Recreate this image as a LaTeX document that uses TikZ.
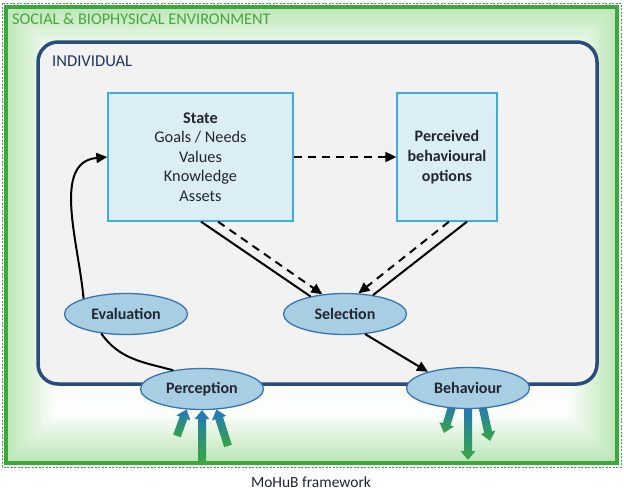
\documentclass[tikz,border=0pt]{standalone}
\usepackage{fontspec}
\setmainfont{Carlito}
\usetikzlibrary{arrows.meta,shapes.geometric,calc}
\definecolor{envgreen}{RGB}{62,166,62}
\definecolor{envtext}{RGB}{72,165,62}
\definecolor{envglow}{RGB}{188,230,182}
\definecolor{indblue}{RGB}{42,76,124}
\definecolor{indtext}{RGB}{32,52,92}
\definecolor{indfill}{RGB}{242,242,242}
\definecolor{boxfill}{RGB}{219,238,246}
\definecolor{boxline}{RGB}{62,172,222}
\definecolor{ellfill}{RGB}{168,206,228}
\definecolor{ellline}{RGB}{56,116,176}
\definecolor{textdark}{RGB}{34,38,48}
\definecolor{arrblue}{RGB}{36,118,186}
\definecolor{arrgreen}{RGB}{56,166,66}
\pgfdeclarelayer{back}
\pgfdeclarelayer{mid}
\pgfsetlayers{back,mid,main}
\newcommand\gradarrow[2]{%
  \coordinate (ga1) at #1;
  \coordinate (ga2) at #2;
  \coordinate (gan) at ($(ga2)!9pt!(ga1)$);
  \shade[top color=arrblue, bottom color=arrgreen]
    ($(ga1)!4pt!90:(ga2)$) -- ($(gan)!4pt!90:(ga2)$) -- ($(gan)!7.5pt!90:(ga2)$)
    -- (ga2) -- ($(gan)!7.5pt!-90:(ga2)$) -- ($(gan)!4pt!-90:(ga2)$)
    -- ($(ga1)!4pt!-90:(ga2)$) -- cycle;
}
\tikzset{
  statebox/.style={draw=boxline, line width=1.3pt, fill=boxfill, inner sep=0pt,
    align=center, text=textdark, font=\fontsize{16.3}{19.6}\selectfont},
  oval/.style={ellipse, draw=ellline, line width=1.3pt, fill=ellfill, inner sep=0pt,
    minimum width=123pt, minimum height=41pt, text=textdark,
    font=\bfseries\fontsize{16}{18}\selectfont},
  conn/.style={line width=2pt, black},
  tipped/.style={-{Triangle[length=11pt,width=10pt]}},
  dashconn/.style={conn, dash pattern=on 8pt off 6pt}
}
\begin{document}
\begin{tikzpicture}[x=1pt,y=-1pt]
\useasboundingbox (0,0) rectangle (624,491);
\begin{pgfonlayer}{back}
  \fill[white] (0,0) rectangle (624,491);
  \foreach \i in {0,...,24}{
    \pgfmathtruncatemacro\pc{100-4*\i}
    \fill[envglow!\pc!white] (6+2*\i,7+2*\i) rectangle (617-2*\i,463-2*\i);
  }
  \draw[envgreen, line width=3.5pt] (6,7) rectangle (617,463);
  \draw[envgreen, line width=0.7pt, dash pattern=on 2pt off 1.5pt] (2,3) rectangle (621,467);
  \draw[indblue, line width=3.5pt, fill=indfill, rounded corners=20pt] (38,42) rectangle (597,384);
\end{pgfonlayer}

\node[anchor=west, text=envtext, font=\fontsize{16.3}{18}\selectfont, inner sep=0pt] (envlabel) at (12,19) {SOCIAL \& BIOPHYSICAL ENVIRONMENT};
\node[anchor=west, text=indtext, font=\fontsize{16.6}{18}\selectfont, inner sep=0pt] (indlabel) at (52,61) {INDIVIDUAL};

\node[statebox, minimum width=185pt, minimum height=128pt] (state) at (200.5,157)
  {\textbf{State}\\Goals / Needs\\Values\\Knowledge\\Assets};
\node[statebox, minimum width=100pt, minimum height=128pt, font=\bfseries\fontsize{16}{20}\selectfont] (options) at (447,157)
  {Perceived\\behavioural\\options};

\node[oval] (eval) at (126,314) {Evaluation};
\node[oval] (select) at (345,314) {Selection};
\node[oval] (percept) at (202,389) {Perception};
\node[oval] (behav) at (468,388) {Behaviour};

\node[text=textdark, font=\fontsize{15.5}{17}\selectfont, inner sep=0pt] (caption) at (311,482) {MoHuB framework};

% connectors
\draw[dashconn, tipped] (state.east) -- (options.west);
\draw[conn] ([xshift=0.5pt]state.south) -- (select.153);
\draw[dashconn, tipped] ([xshift=17.5pt]state.south) -- (select.139);
\draw[dashconn, tipped] ([xshift=2pt]options.south) -- (select.57);
\draw[conn] ([xshift=20pt]options.south) -- (select.34);
\draw[conn, tipped] (select.-45) -- (behav.158);
\draw[conn] (percept.147) to[out=165, in=-55] (eval.218);
\draw[conn, tipped] (eval.160) to[out=95, in=185] (state.west);

% gradient arrows
\coordinate (pl) at (177,436);
\coordinate (pc) at (202,461);
\coordinate (pr) at (228,446);
\coordinate (bl) at (444,433);
\coordinate (bc) at (468,460);
\coordinate (br) at (490,441);
\begin{pgfonlayer}{mid}
  \gradarrow{(pl)}{(percept.-127)}
  \gradarrow{(pc)}{(percept.south)}
  \gradarrow{(pr)}{(percept.-55)}
  \gradarrow{($(behav.-129)!-4pt!(bl)$)}{(bl)}
  \gradarrow{($(behav.south)!-4pt!(bc)$)}{(bc)}
  \gradarrow{($(behav.-54)!-4pt!(br)$)}{(br)}
\end{pgfonlayer}
\end{tikzpicture}
\end{document}
